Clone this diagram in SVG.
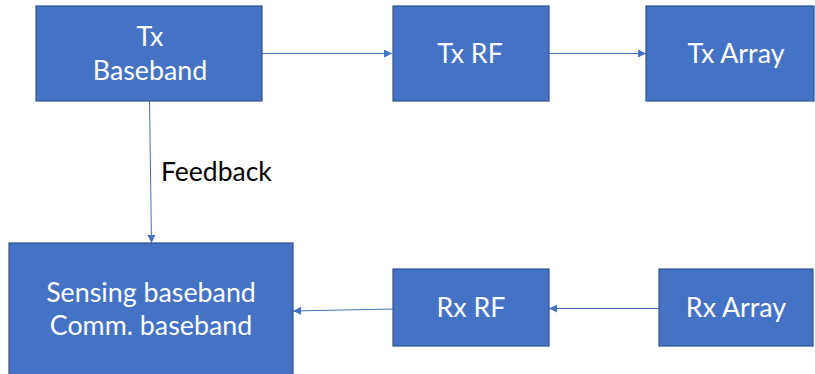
<svg xmlns="http://www.w3.org/2000/svg" width="815" height="374" viewBox="0 0 815 374">
  <style>
    .box { fill: #4472C4; stroke: #2F528F; stroke-width: 1.2; }
    .lbl { fill: #FFFFFF; font-family: Lato, "Open Sans", "Liberation Sans", sans-serif; font-size: 26.8px; text-anchor: middle; }
    .note { fill: #000000; font-family: Lato, "Open Sans", "Liberation Sans", sans-serif; font-size: 26.5px; }
    .wire { fill: none; stroke: #4472C4; stroke-width: 1; marker-end: url(#tip); }
  </style>
  <defs>
    <marker id="tip" viewBox="0 0 10 10" refX="10" refY="5" markerWidth="10" markerHeight="8" markerUnits="userSpaceOnUse" orient="auto">
      <path d="M0,0 L10,5 L0,10 Z" fill="#4472C4"/>
    </marker>
  </defs>

  <g id="connectors">
    <line class="wire" x1="262" y1="53.5" x2="392" y2="53.5"/>
    <line class="wire" x1="549" y1="53.5" x2="646" y2="53.5"/>
    <line class="wire" x1="149.5" y1="101" x2="151.5" y2="243"/>
    <line class="wire" x1="659" y1="308.5" x2="549" y2="308.5"/>
    <line class="wire" x1="393" y1="309" x2="293" y2="311"/>
  </g>

  <g id="tx-baseband">
    <rect class="box" x="36" y="6" width="226" height="95"/>
    <text class="lbl" x="150" y="46">Tx</text>
    <text class="lbl" x="150" y="79.5">Baseband</text>
  </g>

  <g id="tx-rf">
    <rect class="box" x="393" y="6" width="156" height="95"/>
    <text class="lbl" x="470" y="63">Tx RF</text>
  </g>

  <g id="tx-array">
    <rect class="box" x="646" y="6" width="168" height="95"/>
    <text class="lbl" x="736" y="63">Tx Array</text>
  </g>

  <g id="feedback-label">
    <text class="note" x="161" y="181">Feedback</text>
  </g>

  <g id="sensing-comm-baseband">
    <rect class="box" x="9" y="243" width="284" height="140"/>
    <text class="lbl" x="151" y="301.5">Sensing baseband</text>
    <text class="lbl" x="151" y="335">Comm. baseband</text>
  </g>

  <g id="rx-rf">
    <rect class="box" x="393" y="269" width="156" height="77"/>
    <text class="lbl" x="471" y="317">Rx RF</text>
  </g>

  <g id="rx-array">
    <rect class="box" x="659" y="269" width="154" height="77"/>
    <text class="lbl" x="736" y="317">Rx Array</text>
  </g>
</svg>
